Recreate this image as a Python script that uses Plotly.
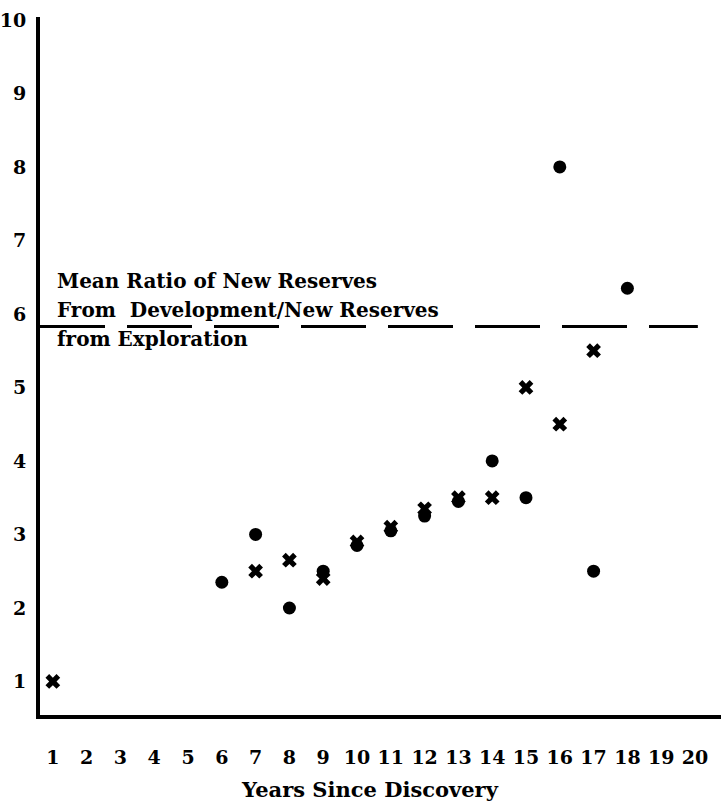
import plotly.graph_objects as go

# Data
dev_years = [6, 7, 8, 9, 10, 11, 12, 13, 14, 15, 16, 17, 18]
dev_ratio = [2.35, 3.0, 2.0, 2.5, 2.85, 3.05, 3.25, 3.45, 4.0, 3.5, 8.0, 2.5, 6.35]

x_years = [1, 7, 8, 9, 10, 11, 12, 13, 14, 15, 16, 17]
x_ratio = [1.0, 2.5, 2.65, 2.4, 2.9, 3.1, 3.35, 3.5, 3.5, 5.0, 4.5, 5.5]

mean_ratio = 5.83

x_ticks = list(range(1, 21))
x_ticklabels = [str(v) for v in x_ticks]
y_ticks = list(range(1, 11))
y_ticklabels = [str(v) for v in y_ticks]

note_lines = ["Mean Ratio of New Reserves",
              "From  Development/New Reserves",
              "from Exploration"]
x_title = "Years Since Discovery"

FONT = "DejaVu Serif"

fig = go.Figure()

fig.add_trace(go.Scatter(
    x=dev_years, y=dev_ratio, mode="markers",
    marker=dict(symbol="circle", size=13, color="black", line=dict(width=0)),
    showlegend=False, hoverinfo="x+y"))

fig.add_trace(go.Scatter(
    x=x_years, y=x_ratio, mode="markers",
    marker=dict(symbol="x", size=13, color="black", line=dict(width=0)),
    showlegend=False, hoverinfo="x+y"))

# mean ratio dashed line
fig.add_shape(type="line", xref="paper", yref="y",
              x0=0, x1=0.966, y0=mean_ratio, y1=mean_ratio,
              line=dict(color="black", width=3, dash="65px,22px"))

# note text lines
note_y = [6.45, 6.05, 5.66]
for txt, yy in zip(note_lines, note_y):
    fig.add_annotation(x=1.06, y=yy, xref="x", yref="y", text="<b>%s</b>" % txt,
                       showarrow=False, xanchor="left", yanchor="middle",
                       font=dict(family=FONT, size=20, color="black"))

fig.add_annotation(x=0.485, y=-0.107, xref="paper", yref="paper",
                   text="<b>%s</b>" % x_title, showarrow=False,
                   xanchor="center", yanchor="middle",
                   font=dict(family=FONT, size=21, color="black"))

fig.update_layout(
    width=721, height=805,
    margin=dict(l=40, r=0, t=17, b=90, autoexpand=False),
    paper_bgcolor="white", plot_bgcolor="white",
    font=dict(family=FONT, color="black"),
    xaxis=dict(range=[0.62, 20.77], tickmode="array", tickvals=x_ticks,
               ticktext=["<b>%s</b>" % t for t in x_ticklabels],
               showgrid=False, zeroline=False, showline=True, linewidth=4,
               linecolor="black", ticks="", ticklabelstandoff=22,
               automargin=False,
               tickfont=dict(family=FONT, size=19, color="black")),
    yaxis=dict(range=[0.544, 10.04], tickmode="array", tickvals=y_ticks,
               ticktext=["<b>%s</b>" % t for t in y_ticklabels],
               showgrid=False, zeroline=False, showline=True, linewidth=4,
               linecolor="black", ticks="", ticklabelstandoff=6,
               automargin=False,
               tickfont=dict(family=FONT, size=19, color="black")),
)

fig.write_html("out.html", config={"displayModeBar": False},
               post_script="document.body.style.margin='0';document.body.style.overflow='hidden';")
